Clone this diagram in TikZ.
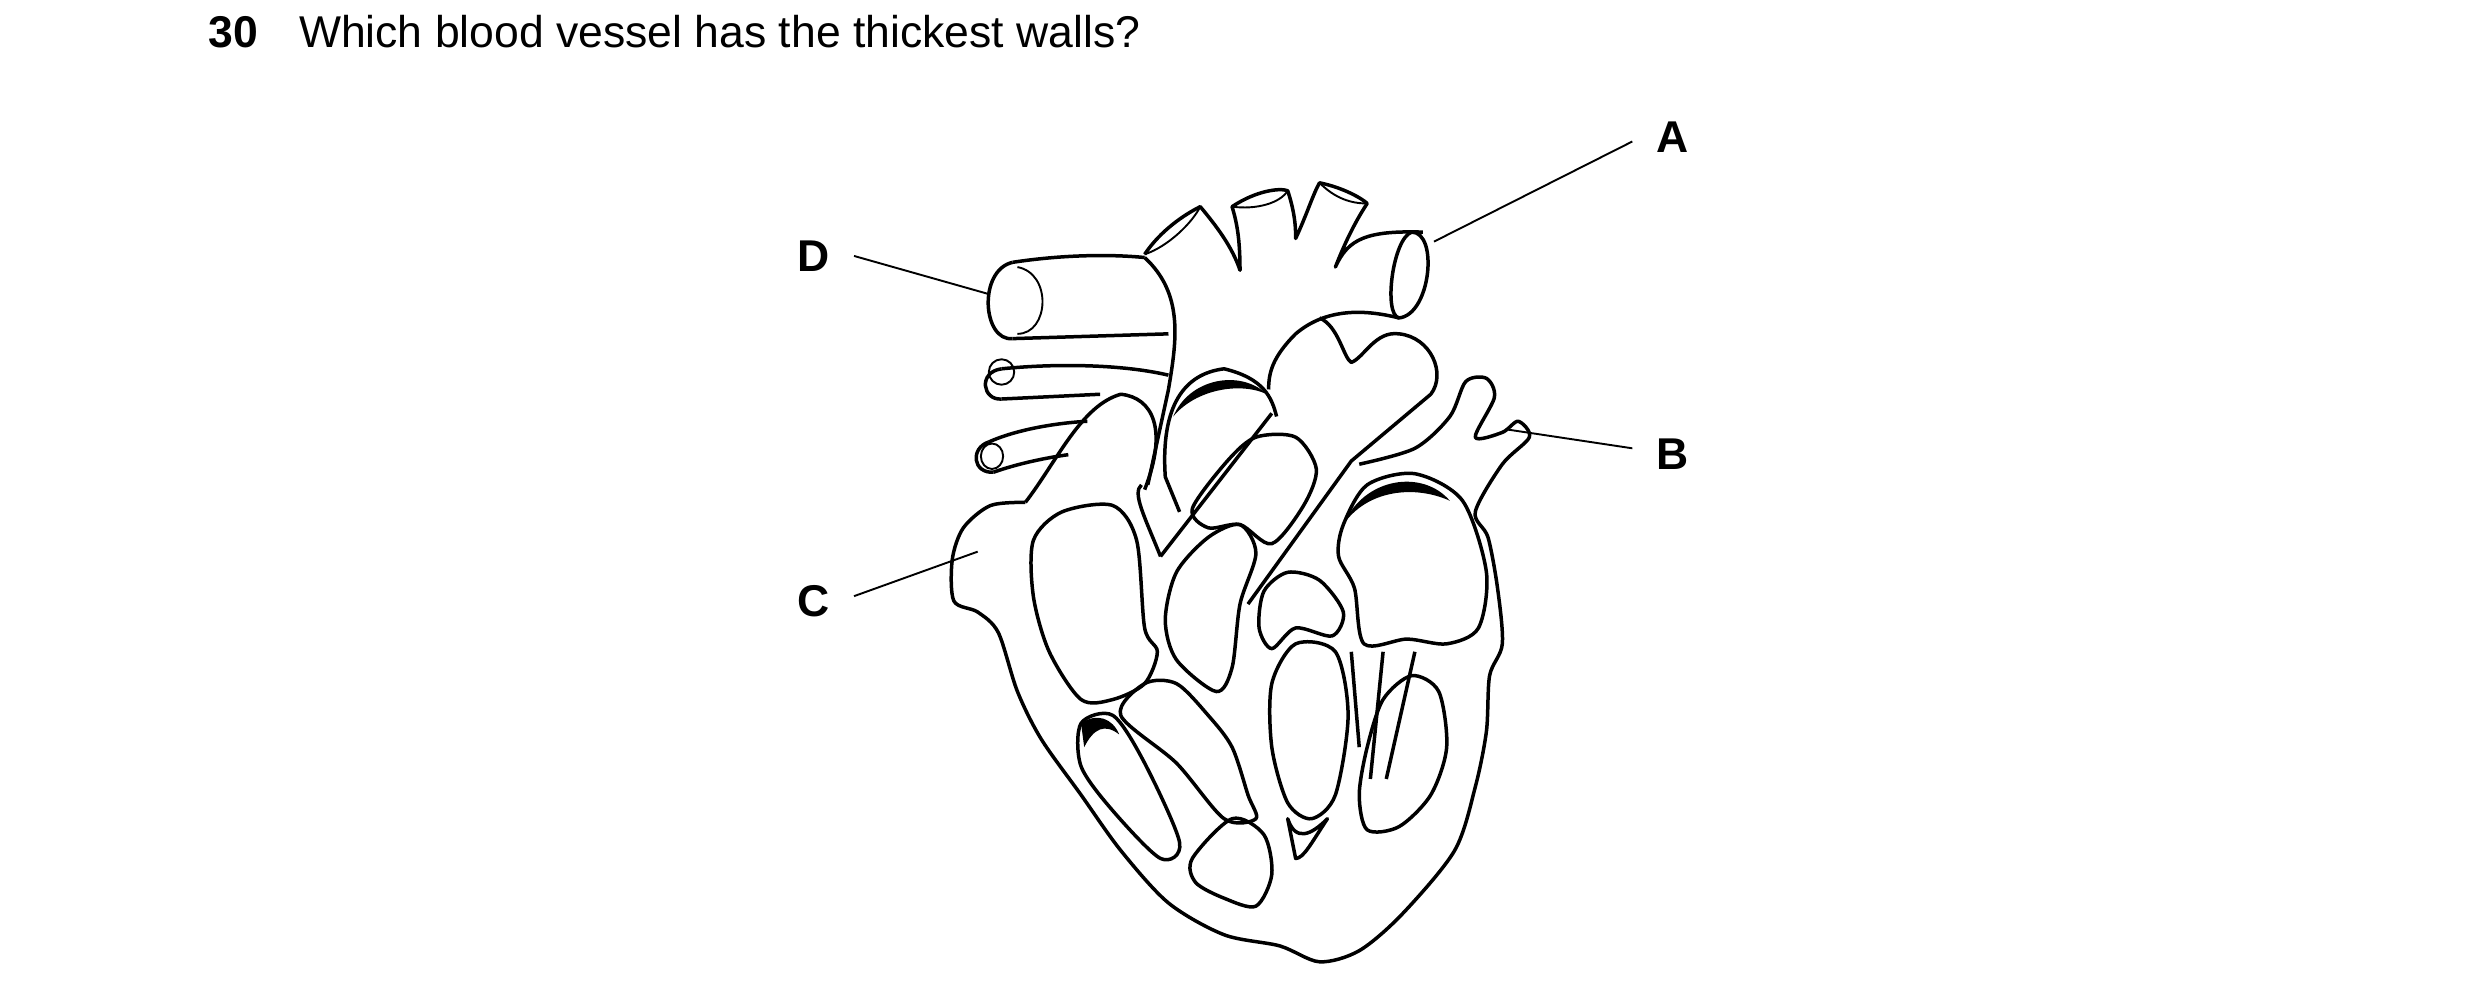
\documentclass[tikz,border=0pt]{standalone}
\usepackage{fontspec}
\setmainfont{Liberation Sans}
\tikzset{every picture/.style={line width=2.2pt}}
\tikzset{heart/.style={line width=2.2pt, line join=round},
  thin/.style={line width=1.2pt},
  lbl/.style={font=\fontsize{28}{34}\selectfont\bfseries, inner sep=0pt}}
\begin{document}
\begin{tikzpicture}[x=1pt,y=1pt,yscale=-1,xscale=1]
\useasboundingbox (0,0) rectangle (1560,628);

% Question
\node[lbl, anchor=west] (num) at (130,20) {30};
\node[anchor=west, inner sep=0pt, font=\fontsize{28}{34}\selectfont] (q) at (187,20) {Which blood vessel has the thickest walls?};

% outer wall
\draw[heart] plot[smooth] coordinates {(645,316) (623,318) (606,332) (599,352) (600,378) (615,385) (628,398) (640,435) (655,465) (680,500) (705,535) (735,568) (770,588) (805,595) (830,605) (855,598) (882,575) (915,535) (928,495) (935,460) (937,425) (945,405) (942,370) (936,338) (928,322) (945,292) (962,275) (955,265) (945,272) (928,275) (940,250) (935,238) (922,240) (912,262) (890,282) (855,292)};
% superior vena cava
\draw[heart] (637,165) .. controls (670,160) and (700,160) .. (720,162);
\draw[heart] (637,213) -- (735,210);
\draw[heart] (637,165) .. controls (615,170) and (618,215) .. (637,213);
\draw[thin] (640,168) .. controls (662,172) and (660,210) .. (640,210);
% pulmonary arteries (left)
\draw[heart] (630,232) .. controls (670,228) and (710,230) .. (735,236);
\draw[heart] (630,251) -- (692,248);
\draw[heart] (630,232) .. controls (615,234) and (618,252) .. (630,251);
\draw[thin] (630,234) circle[x radius=8, y radius=8];
\draw[heart] (622,278) .. controls (640,270) and (665,266) .. (684,265);
\draw[heart] (625,297) .. controls (645,290) and (665,287) .. (672,286);
\draw[heart] (622,278) .. controls (610,282) and (612,298) .. (625,297);
\draw[thin] (624,287) circle[x radius=7, y radius=8];
% aortic arch and branches
\draw[heart] (720,162) .. controls (745,185) and (740,215) .. (735,245) -- (722,305);
\draw[heart] (720,160) .. controls (730,145) and (745,135) .. (755,130) .. controls (765,142) and (775,155) .. (780,170) .. controls (780,150) and (778,140) .. (775,130) .. controls (790,120) and (805,118) .. (810,120) .. controls (815,135) and (815,145) .. (815,150) .. controls (822,135) and (826,122) .. (830,115) .. controls (845,118) and (857,125) .. (860,128) .. controls (852,140) and (845,155) .. (840,168) .. controls (848,150) and (860,145) .. (895,146);
\draw[thin] (720,160) .. controls (735,155) and (750,140) .. (755,130);
\draw[thin] (775,130) .. controls (790,132) and (805,128) .. (810,120);
\draw[thin] (830,115) .. controls (840,125) and (850,128) .. (860,128);
% aorta end (A)
\draw[heart] (888,146) .. controls (905,146) and (900,198) .. (880,200) .. controls (870,198) and (876,150) .. (888,146);
\draw[heart] (880,200) .. controls (860,195) and (835,193) .. (815,210) .. controls (800,225) and (798,235) .. (798,245);
% pulmonary trunk
\draw[heart] (830,200) .. controls (842,205) and (845,225) .. (850,228) .. controls (858,225) and (865,208) .. (880,210) .. controls (900,212) and (910,235) .. (900,248) -- (850,290) -- (785,380);
\draw[heart] (800,260) -- (730,350);
\draw[heart] (803,262) .. controls (800,250) and (795,238) .. (770,232) .. controls (745,235) and (730,255) .. (733,300) -- (742,322);
\fill (738,262) .. controls (748,238) and (780,232) .. (797,248) .. controls (780,240) and (752,245) .. (738,262);
\draw[heart] (730,350) .. controls (720,325) and (712,310) .. (718,305);
% right atrium
\draw[heart] (645,316) .. controls (665,290) and (680,255) .. (705,248) .. controls (725,250) and (735,270) .. (720,308);
% chambers
\draw[heart] plot[smooth cycle] coordinates {(650,340) (668,322) (700,318) (715,340) (720,395) (728,410) (720,430) (700,440) (680,440) (660,410) (650,375)};
\draw[heart] plot[smooth cycle] coordinates {(750,320) (772,290) (790,275) (815,275) (828,295) (820,318) (800,342) (780,330) (760,332)};
\draw[heart] plot[smooth cycle] coordinates {(740,360) (760,338) (780,330) (790,348) (780,380) (775,420) (765,435) (740,415) (733,390)};
\draw[heart] plot[smooth cycle] coordinates {(845,330) (860,305) (890,298) (920,315) (935,360) (930,395) (910,405) (885,402) (858,405) (852,370) (842,350)};
\fill (845,330) .. controls (858,300) and (895,295) .. (912,315) .. controls (890,305) and (860,308) .. (845,330);
\draw[heart] plot[smooth cycle] coordinates {(795,372) (810,360) (830,365) (845,385) (838,400) (815,395) (800,408) (792,395)};
\draw[heart] plot[smooth cycle] coordinates {(800,430) (815,405) (840,410) (848,450) (840,500) (825,515) (810,505) (800,470)};
\draw[heart] plot[smooth cycle] coordinates {(860,470) (870,440) (888,425) (905,435) (910,470) (900,500) (880,520) (860,522) (855,500)};
\draw[heart] plot[smooth cycle] coordinates {(680,455) (700,450) (720,480) (742,530) (730,540) (700,510) (680,482)};
\fill (680,455) .. controls (690,448) and (700,452) .. (704,462) .. controls (695,455) and (688,458) .. (682,470) -- cycle;
\draw[heart] plot[smooth cycle] coordinates {(705,450) (720,430) (740,430) (760,450) (775,470) (785,500) (790,515) (770,515) (740,480)};
\draw[heart] plot[smooth cycle] coordinates {(750,540) (775,515) (795,525) (800,550) (790,570) (770,565) (752,555)};
\draw[heart] (850,410) -- (855,470);
\draw[heart] (870,410) -- (862,490);
\draw[heart] (890,410) -- (872,490);
\draw[heart] (810,515) .. controls (815,530) and (825,525) .. (835,515) .. controls (825,530) and (820,540) .. (815,540) -- cycle;

% labels
\node[lbl] (A) at (1052,86) {A};
\node[lbl] (B) at (1052,286) {B};
\node[lbl] (C) at (512,378) {C};
\node[lbl] (D) at (512,161) {D};
\coordinate (pa) at (902,152);
\coordinate (pb) at (947,270);
\coordinate (pc) at (615,347);
\coordinate (pd) at (622,185);
\draw[thin] (A.west) ++(-14,3) -- (pa);
\draw[thin] (B.west) ++(-14,-4) -- (pb);
\draw[thin] (C.east) ++(14,-3) -- (pc);
\draw[thin] (D.east) ++(14,0) -- (pd);
\end{tikzpicture}
\end{document}
